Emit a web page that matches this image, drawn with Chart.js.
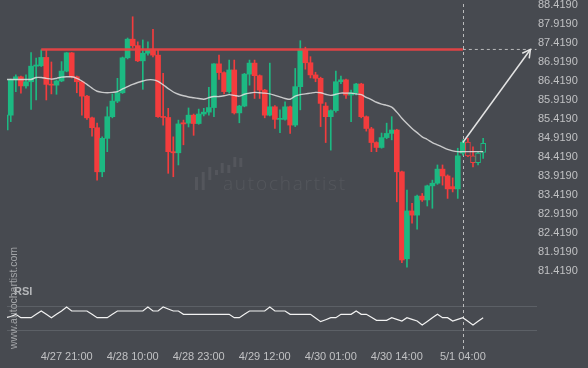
<!DOCTYPE html>
<html>
<head>
<meta charset="utf-8">
<script src="https://cdn.jsdelivr.net/npm/chart.js@4.4.1/dist/chart.umd.min.js"></script>
<style>
html,body{margin:0;padding:0;background:#474a50;}
#wrap{position:relative;width:588px;height:368px;}
</style>
</head>
<body>
<div id="wrap"><canvas id="chart" width="588" height="368"></canvas></div>
<script>
// hourly candles, index 0..94
const timeLabels = ["4/27 21:00","4/28 10:00","4/28 23:00","4/29 12:00","4/30 01:00","4/30 14:00","5/1 04:00"];
const timeIdx = [12,25,38,51,64,77,90];

const open = [85.13,85.52,86.45,86.53,86.29,86.40,86.81,86.82,87.04,86.33,
  86.31,86.42,86.68,87.16,86.53,86.40,86.02,85.45,85.19,84.03,
  84.91,85.48,85.89,86.11,87.03,87.52,87.35,86.95,87.15,87.24,
  87.10,85.48,85.46,84.56,84.53,85.32,85.31,85.52,85.30,85.55,
  85.60,85.72,86.87,86.64,86.14,86.71,85.58,85.76,86.60,86.89,
  86.56,86.18,85.52,85.74,85.41,85.41,85.74,85.26,86.27,87.24,
  86.90,86.58,86.49,85.76,85.48,85.64,86.40,86.45,86.05,86.11,
  86.34,85.48,85.16,84.80,84.67,84.93,85.04,85.13,84.03,81.74,
  83.00,82.89,83.39,83.29,83.66,83.73,84.10,83.92,83.64,83.58,
  84.52,84.81,84.45,84.27,84.54];
const high = [85.55,86.47,86.58,86.55,86.58,87.17,87.02,87.24,87.25,86.92,
  86.45,86.93,87.17,87.17,86.55,86.42,86.04,85.47,85.31,84.95,
  85.74,86.08,86.49,87.05,87.55,88.11,87.45,87.50,87.45,87.78,
  87.24,86.62,85.70,84.95,85.39,85.39,85.71,85.55,85.68,85.70,
  86.25,86.88,87.10,86.66,86.97,86.97,85.78,86.62,86.97,86.97,
  86.58,86.20,86.89,85.77,85.66,85.87,85.76,86.75,87.48,87.31,
  87.06,86.65,86.52,85.85,85.66,86.68,86.55,86.47,86.18,86.36,
  86.36,85.50,85.20,84.82,85.05,85.31,85.48,85.15,84.05,83.55,
  83.20,83.42,83.46,83.68,83.81,84.21,84.21,83.95,83.87,84.65,
  84.87,84.91,84.69,84.55,84.91];
const low = [85.10,85.35,86.14,86.10,86.23,85.67,85.92,86.80,85.92,86.08,
  86.07,86.40,86.66,86.50,86.11,85.52,85.41,84.97,83.81,83.90,
  84.56,85.45,85.85,86.09,87.00,87.30,86.93,86.20,87.10,87.05,
  85.46,85.26,83.99,83.90,84.21,84.74,85.21,84.99,85.28,85.50,
  85.52,85.48,86.46,86.08,86.10,85.55,85.32,85.74,86.31,85.96,
  85.96,85.45,85.50,85.17,85.06,85.39,85.04,85.22,85.66,86.73,
  86.50,86.40,85.22,84.80,84.60,85.60,86.35,85.96,85.35,86.05,
  85.45,85.10,84.56,84.56,84.65,84.90,84.87,83.24,81.64,81.52,
  82.68,82.52,83.25,83.13,83.07,83.70,83.68,83.33,83.50,83.33,
  84.47,84.43,84.16,84.21,84.38];
const close = [85.52,86.46,86.53,86.29,86.40,86.81,86.84,87.04,86.33,86.31,
  86.42,86.68,87.16,86.53,86.40,86.02,85.45,85.19,84.03,84.91,
  85.48,85.89,86.11,87.03,87.52,87.35,86.95,87.15,87.24,87.10,
  85.48,85.46,84.56,84.53,85.29,85.29,85.52,85.30,85.55,85.60,
  85.72,86.87,86.64,86.14,86.71,85.58,85.76,86.60,86.89,86.56,
  86.18,85.52,85.74,85.41,85.43,85.74,85.26,86.27,87.24,86.90,
  86.58,86.49,85.83,85.48,85.64,86.40,86.45,86.05,86.11,86.34,
  85.48,85.17,84.80,84.67,84.93,85.04,85.13,84.03,81.71,83.00,
  82.89,83.39,83.29,83.66,83.73,84.10,83.92,83.58,83.58,84.45,
  84.81,84.45,84.27,84.52,84.78];

const ma = [86.46,86.46,86.46,86.46,86.46,86.46,86.51,86.51,86.49,86.47,
  86.49,86.52,86.53,86.53,86.49,86.42,86.33,86.23,86.15,86.12,
  86.11,86.12,86.14,86.21,86.27,86.33,86.38,86.42,86.45,86.45,
  86.41,86.32,86.22,86.13,86.07,86.03,86.00,85.98,85.96,85.94,
  85.98,86.01,86.01,86.03,86.06,86.04,86.02,86.07,86.10,86.12,
  86.11,86.10,86.08,86.04,86.00,85.96,85.94,86.02,86.06,86.08,
  86.10,86.12,86.11,86.07,86.04,86.07,86.10,86.10,86.10,86.08,
  86.06,85.99,85.93,85.86,85.81,85.78,85.73,85.60,85.44,85.30,
  85.17,85.06,84.95,84.88,84.80,84.74,84.68,84.62,84.58,84.56,
  84.56,84.56,84.56,84.56,84.56];

const rsi = [50.5,51.5,53.3,50.5,50.5,50.5,53.3,56.1,53.3,50.5,
  53.3,56.1,59.4,56.1,56.1,56.1,56.1,53.3,50.5,50.5,
  50.5,53.3,56.1,56.1,56.1,56.1,56.1,56.1,59.4,56.1,
  56.1,59.4,57.7,56.1,56.1,53.3,53.3,53.3,53.3,53.3,
  53.3,53.3,53.3,53.3,53.3,50.5,50.5,53.3,56.1,56.1,
  56.1,56.1,59.4,56.1,56.1,56.1,53.3,53.3,53.3,53.3,
  53.3,50.3,47.2,48.8,50.5,50.5,53.3,53.3,53.3,56.1,
  53.3,53.3,50.8,48.3,48.3,48.3,50.5,49.1,47.75,50.5,
  49.1,47.75,44.4,47.4,50.4,53.3,50.5,50.5,47.75,49.1,
  50.5,47.5,44.4,47.5,50.5];

const priceTicks = [81.419,81.919,82.419,82.919,83.419,83.919,84.419,84.919,85.419,85.919,86.419,86.919,87.419,87.919,88.419];
const rsiTicks = [40,60];

const resistance = 87.25;
const resistanceFrom = 7;
const patternEnd = 90;
const forecastFrom = 91;
const arrowX = [90, 103.3];
const arrowY = [84.80, 87.25];
const dashedEnd = 104.5;

const upColor = '#1cb982';
const downColor = '#f33c3d';
const bgColor = '#474a50';
const textColor = '#c0c1c3';

Chart.defaults.font.family = 'Arial, "Liberation Sans", sans-serif';
Chart.defaults.font.size = 11;
Chart.defaults.color = textColor;

const idx = open.map((_, i) => i);
const isUp = i => close[i] >= open[i];

const plotFx = {
  id: 'plotFx',
  beforeDatasetsDraw(chart) {
    const {ctx, scales: {x}} = chart;
    ctx.save();
    // watermark
    ctx.fillStyle = 'rgba(255,255,255,0.07)';
    [[195,177,3,13],[201.7,172,3,18],[208.3,167,3,13],[215,170,3,5],[220.7,163,3,10],[227.3,165,3,8],[233.3,157,3,10],[239.3,158,3,9]]
      .forEach(r => ctx.fillRect(r[0], r[1], r[2], r[3]));
    ctx.font = '300 19px "Open Sans", Lato, sans-serif';
    ctx.textBaseline = 'alphabetic';
    const word = 'autochartist';
    const w = ctx.measureText(word).width;
    const gap = (122 - w) / (word.length - 1);
    let cx = 223;
    for (const ch of word) { ctx.fillText(ch, cx, 190); cx += ctx.measureText(ch).width + gap; }
    // pattern end marker
    const px = Math.round(x.getPixelForValue(patternEnd)) + 0.5;
    ctx.strokeStyle = 'rgba(215,215,215,0.8)';
    ctx.lineWidth = 1;
    ctx.setLineDash([3, 3]);
    ctx.beginPath(); ctx.moveTo(px, 4); ctx.lineTo(px, 350); ctx.stroke();
    ctx.restore();
  },
  afterDraw(chart) {
    const {ctx, scales: {x, y}} = chart;
    ctx.save();
    // arrow head
    const x0 = x.getPixelForValue(arrowX[0]), y0 = y.getPixelForValue(arrowY[0]);
    const x1 = x.getPixelForValue(arrowX[1]), y1 = y.getPixelForValue(arrowY[1]);
    const a = Math.atan2(y1 - y0, x1 - x0);
    ctx.strokeStyle = '#e4e4e4';
    ctx.lineWidth = 1.5;
    ctx.beginPath();
    ctx.moveTo(x1 - 9 * Math.cos(a - 0.5), y1 - 9 * Math.sin(a - 0.5));
    ctx.lineTo(x1, y1);
    ctx.lineTo(x1 - 9 * Math.cos(a + 0.5), y1 - 9 * Math.sin(a + 0.5));
    ctx.stroke();
    // labels
    ctx.fillStyle = '#b4b6b9';
    ctx.font = 'bold 11px Arial, "Liberation Sans", sans-serif';
    ctx.textBaseline = 'middle';
    ctx.fillText('RSI', 14, 292);
    ctx.translate(14, 349);
    ctx.rotate(-Math.PI / 2);
    ctx.font = '10.5px Arial, "Liberation Sans", sans-serif';
    ctx.fillStyle = '#a3a5a8';
    ctx.fillText('www.autochartist.com', 0, 0);
    ctx.restore();
  }
};

new Chart(document.getElementById('chart'), {
  type: 'bar',
  data: {
    datasets: [
      {
        label: 'resistance',
        type: 'line',
        data: [{x: resistanceFrom, y: resistance}, {x: patternEnd, y: resistance}],
        borderColor: 'rgba(232,66,68,0.95)',
        borderWidth: 2.5,
        pointRadius: 0,
        order: 0
      },
      {
        label: 'target',
        type: 'line',
        data: [{x: patternEnd, y: resistance}, {x: dashedEnd, y: resistance}],
        borderColor: 'rgba(215,215,215,0.8)',
        borderWidth: 1,
        borderDash: [3, 3],
        pointRadius: 0,
        order: 0
      },
      {
        label: 'arrow',
        type: 'line',
        data: arrowX.map((v, i) => ({x: v, y: arrowY[i]})),
        borderColor: '#e4e4e4',
        borderWidth: 1.5,
        pointRadius: 0,
        order: 0
      },
      {
        label: 'ma',
        type: 'line',
        data: idx.map(i => ({x: i, y: ma[i]})),
        borderColor: 'rgba(225,225,225,0.85)',
        borderWidth: 1.4,
        pointRadius: 0,
        tension: 0.3,
        order: 1
      },
      {
        label: 'rsi',
        type: 'line',
        yAxisID: 'rsi',
        data: idx.map(i => ({x: i, y: rsi[i]})),
        borderColor: '#f2f2f2',
        borderWidth: 1.2,
        pointRadius: 0,
        order: 1
      },
      {
        label: 'body',
        data: idx.map(i => ({x: i, y: [open[i], close[i]]})),
        backgroundColor: idx.map(i => i >= forecastFrom ? bgColor : (isUp(i) ? upColor : downColor)),
        borderColor: idx.map(i => isUp(i) ? upColor : downColor),
        borderWidth: idx.map(i => i >= forecastFrom ? 1 : 0),
        borderSkipped: false,
        barThickness: 5,
        minBarLength: 1,
        grouped: false,
        order: 2
      },
      {
        label: 'wick',
        data: idx.map(i => ({x: i, y: [low[i], high[i]]})),
        backgroundColor: idx.map(i => isUp(i) ? upColor : downColor),
        borderWidth: 0,
        barThickness: 1,
        grouped: false,
        order: 3
      }
    ]
  },
  options: {
    responsive: false,
    animation: false,
    layout: {padding: {left: 7, top: 0, right: 0, bottom: 0}},
    plugins: {legend: {display: false}, tooltip: {enabled: false}},
    scales: {
      x: {
        type: 'linear', min: 0.26, max: 104.6, offset: false,
        grid: {display: false, drawTicks: false}, border: {display: false},
        afterBuildTicks: s => { s.ticks = timeIdx.map(v => ({value: v})); },
        afterFit: s => { s.height = 23; s.paddingLeft = 0; s.paddingRight = 0; },
        ticks: {padding: 5, maxRotation: 0, autoSkip: false, color: textColor,
          callback: v => timeLabels[timeIdx.indexOf(v)]}
      },
      y: {
        position: 'right', weight: 1, min: 79.472, max: 88.551,
        grid: {display: false, drawTicks: false}, border: {display: false},
        afterBuildTicks: s => { s.ticks = priceTicks.map(v => ({value: v})); },
        afterFit: s => { s.width = 51; s.paddingTop = 0; s.paddingBottom = 0; },
        ticks: {padding: 1, color: textColor, callback: v => v.toFixed(4)}
      },
      rsi: {
        position: 'right', weight: 0, min: 27.75, max: 315.25,
        grid: {color: '#5c6066', drawTicks: false}, border: {display: false},
        afterBuildTicks: s => { s.ticks = rsiTicks.map(v => ({value: v})); },
        afterFit: s => { s.width = 0; s.paddingTop = 0; s.paddingBottom = 0; },
        ticks: {padding: 1, color: textColor}
      }
    }
  },
  plugins: [plotFx]
});
</script>
</body>
</html>
